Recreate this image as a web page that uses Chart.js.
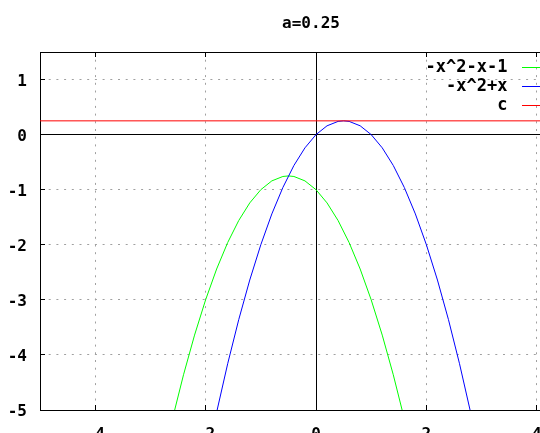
<!DOCTYPE html>
<html><head><meta charset="utf-8">
<script src="https://cdn.jsdelivr.net/npm/chart.js@4.4.1/dist/chart.umd.min.js"></script>
<style>html,body{margin:0;padding:0;overflow:hidden;background:#fff}canvas{display:block}</style>
</head><body>
<canvas id="c" width="622" height="460"></canvas>
<script>
const chartTitle = 'a=0.25';
const seriesNames = ['-x^2-x-1', '-x^2+x', 'c'];
const seriesColors = ['#00ff00', '#0000ff', '#ff0000'];
const greenX = [-2.8, -2.6, -2.4, -2.2, -2.0, -1.8, -1.6, -1.4, -1.2, -1.0, -0.8, -0.6, -0.5, -0.4, -0.2, 0.0, 0.2, 0.4, 0.6, 0.8, 1.0, 1.2, 1.4, 1.6, 1.8];
const greenY = [-6.04, -5.16, -4.36, -3.64, -3.0, -2.44, -1.96, -1.56, -1.24, -1.0, -0.84, -0.76, -0.75, -0.76, -0.84, -1.0, -1.24, -1.56, -1.96, -2.44, -3.0, -3.64, -4.36, -5.16, -6.04];
const blueX = [-2.0, -1.8, -1.6, -1.4, -1.2, -1.0, -0.8, -0.6, -0.4, -0.2, 0.0, 0.2, 0.4, 0.5, 0.6, 0.8, 1.0, 1.2, 1.4, 1.6, 1.8, 2.0, 2.2, 2.4, 2.6, 2.8, 3.0];
const blueY = [-6.0, -5.04, -4.16, -3.36, -2.64, -2.0, -1.44, -0.96, -0.56, -0.24, 0.0, 0.16, 0.24, 0.25, 0.24, 0.16, 0.0, -0.24, -0.56, -0.96, -1.44, -2.0, -2.64, -3.36, -4.16, -5.04, -6.0];
const cX = [-5, 5];
const cY = [0.25, 0.25];
const xRange = [-5, 5];
const yRange = [-5, 1.5];
const xTickValues = [-4, -2, 0, 2, 4];
const yTickValues = [-5, -4, -3, -2, -1, 0, 1];

const pts = (xs, ys) => xs.map((x, i) => ({x: x, y: ys[i]}));
const FONT = {family: "'DejaVu Sans Mono', monospace", size: 16, weight: 'bold', lineHeight: 1};
const LFONT = {family: "'DejaVu Sans Mono', monospace", size: 17, weight: 'bold', lineHeight: 1};

const canvas = document.getElementById('c');
const ctx2d = canvas.getContext('2d');
// legend sample: box 516..552, coloured part 522..552 (gap after the text like gnuplot's key)
const BOX_RIGHT = 552, BOX_W = 36, SAMPLE_GAP = 6;
function sampleFill(color) {
  const g = ctx2d.createLinearGradient(BOX_RIGHT - BOX_W, 0, BOX_RIGHT, 0);
  const s = SAMPLE_GAP / BOX_W;
  g.addColorStop(0, 'rgba(255,255,255,0)');
  g.addColorStop(s, 'rgba(255,255,255,0)');
  g.addColorStop(s, color);
  g.addColorStop(1, color);
  return g;
}
const sampleFills = seriesColors.map(sampleFill);

const mkLine = (label, data, color, order) => ({
  label, data, borderColor: color, backgroundColor: color, borderWidth: 1,
  pointRadius: 0, showLine: true, tension: 0, fill: false, order
});

const placeBoxes = {
  id: 'placeBoxes',
  beforeDraw(chart) {
    const lg = chart.legend;
    if (lg) {
      const pad = lg.options.labels.padding;
      const top = 57;
      lg.left = BOX_RIGHT + pad - lg.width;
      lg.right = lg.left + lg.width;
      lg.top = top;
      lg.bottom = top + lg.height + 100;
    }
    const tb = chart.titleBlock;
    if (tb) {
      tb.left = 0;
      tb.right = chart.width;
      tb.width = chart.width;
    }
  }
};

const isZero = c => c && c.tick && c.tick.value === 0;
const gridBase = {
  color: c => isZero(c) ? '#000' : '#a0a0a0',
  lineWidth: 1, tickLength: -5, tickColor: '#000', tickWidth: 1, tickBorderDash: []
};
const borderBase = {display: true, color: '#000', width: 1, dash: c => isZero(c) ? [] : [2, 5.7]};

new Chart(canvas, {
  type: 'scatter',
  data: {
    datasets: [
      mkLine(seriesNames[0], pts(greenX, greenY), seriesColors[0], 3),
      mkLine(seriesNames[1], pts(blueX, blueY), seriesColors[1], 2),
      mkLine(seriesNames[2], pts(cX, cY), seriesColors[2], 1)
    ]
  },
  options: {
    responsive: false,
    devicePixelRatio: 1,
    animation: false,
    layout: {padding: {left: 0, right: 30, top: 0, bottom: 0}},
    plugins: {
      tooltip: {enabled: false},
      title: {display: true, text: chartTitle, color: '#000', font: FONT, padding: {top: 16, bottom: 20}, fullSize: true},
      legend: {
        display: true, position: 'chartArea', align: 'start', rtl: true,
        labels: {
          font: LFONT, color: '#000', usePointStyle: false, boxWidth: BOX_W, boxHeight: 1, padding: 2,
          generateLabels: () => seriesNames.map((t, i) => ({
            text: t, fillStyle: sampleFills[i], strokeStyle: seriesColors[i], fontColor: '#000',
            lineWidth: 0, hidden: false, datasetIndex: i
          }))
        }
      }
    },
    scales: {
      x: {
        type: 'linear', position: 'bottom', min: xRange[0], max: xRange[1],
        afterBuildTicks: s => { s.ticks = xTickValues.map(v => ({value: v})); },
        afterFit: s => { s.height = 50; },
        ticks: {font: FONT, color: '#000', padding: 22, maxRotation: 0, autoSkip: false, callback: v => String(v)},
        grid: gridBase, border: borderBase
      },
      x2: {
        type: 'linear', position: 'top', min: xRange[0], max: xRange[1],
        afterBuildTicks: s => { s.ticks = xTickValues.map(v => ({value: v})); },
        afterFit: s => { s.height = 0; },
        ticks: {display: false},
        grid: {drawOnChartArea: false, tickLength: -5, tickColor: '#000', tickWidth: 1},
        border: {display: true, color: '#000', width: 1}
      },
      y: {
        type: 'linear', position: 'left', min: yRange[0], max: yRange[1],
        afterBuildTicks: s => { s.ticks = yTickValues.map(v => ({value: v})); },
        afterFit: s => { s.width = 40; },
        ticks: {font: FONT, color: '#000', padding: 18, labelOffset: 2, autoSkip: false, callback: v => String(v)},
        grid: gridBase, border: borderBase
      }
    }
  },
  plugins: [placeBoxes]
});
</script>
</body></html>
